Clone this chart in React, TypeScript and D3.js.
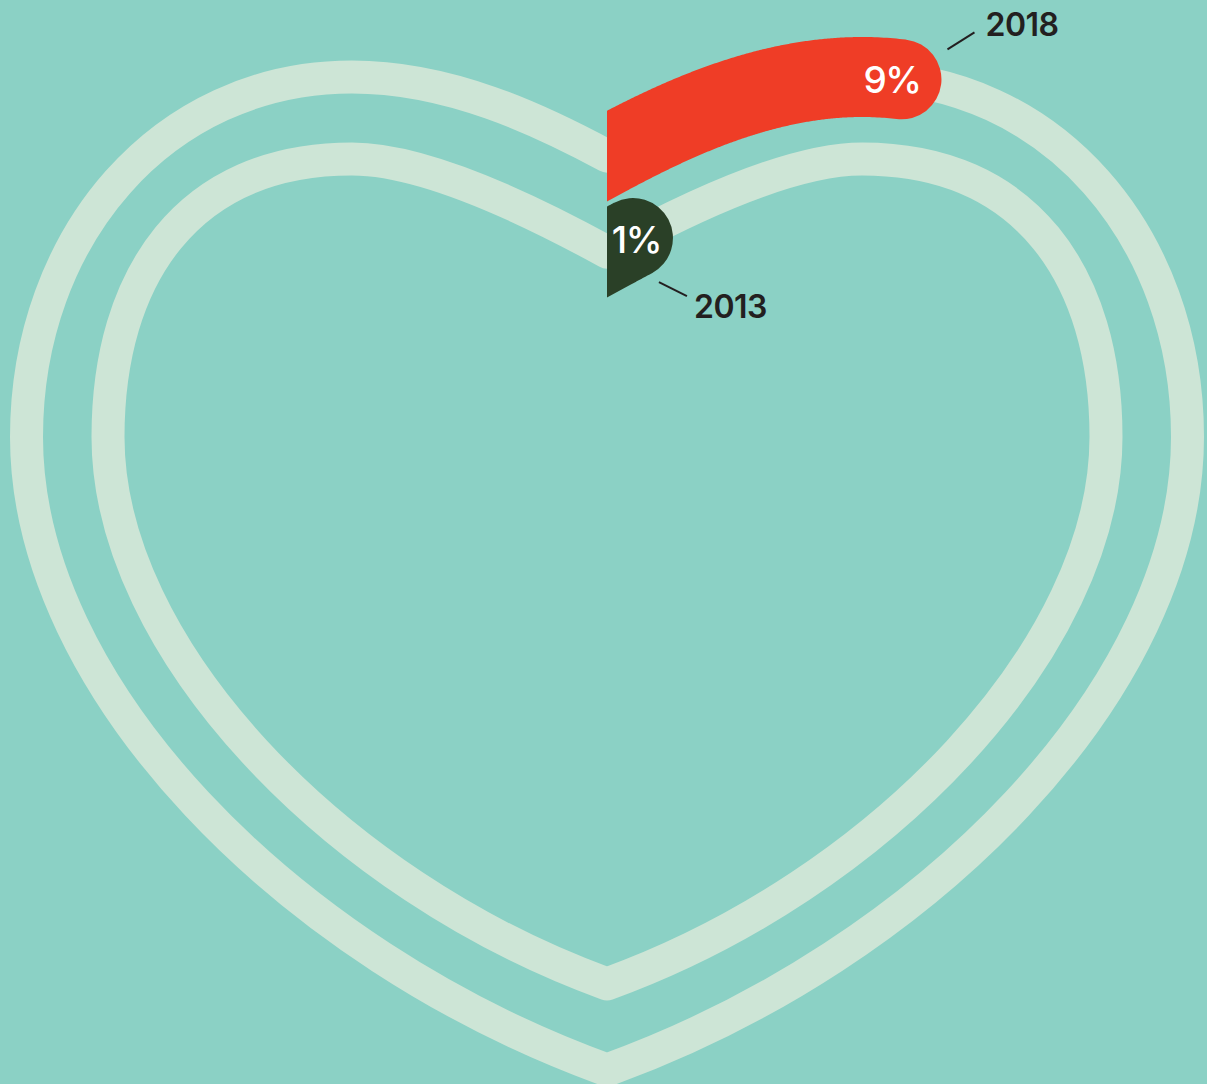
import * as d3 from 'd3';

// one ring per survey year, outer ring first
const years = ['2018', '2013'];
const shares = [9, 1];
const shareColors = ['#ef3d26', '#2a4027'];

const W = 1207;
const H = 1084;
const CX = 607;
const TRACK = 33;
const BAR = 80;

type Pt = [number, number];

// right half of each heart ring as three cubic curves (x is offset from the centre line)
const ringShapes: Pt[][][] = [
    [
        [[0, 156], [67, 120], [157, 77], [255, 77]],
        [[255, 77], [445, 77], [580.5, 237], [580.5, 437]],
        [[580.5, 437], [580.5, 687], [320, 954], [0, 1070]],
    ],
    [
        [[0, 252], [62, 218], [177, 159], [255, 159]],
        [[255, 159], [420, 159], [499, 277], [499, 437]],
        [[499, 437], [499, 647], [273, 885], [0, 984]],
    ],
];

// where the labels sit relative to the end of the bar
const valueLabelPos = [[19, 14], [28, 15]];
const yearLabelPos = [
    { line: [[46, -30], [73, -47]], text: [84, -43] },
    { line: [[26, 44], [54, 58]], text: [61, 80] },
];

function cubicAt(s: Pt[], t: number): Pt {
    const u = 1 - t;
    const a = u * u * u, b = 3 * u * u * t, c = 3 * u * t * t, d = t * t * t;
    return [
        a * s[0][0] + b * s[1][0] + c * s[2][0] + d * s[3][0],
        a * s[0][1] + b * s[1][1] + c * s[2][1] + d * s[3][1],
    ];
}

// clockwise from the top cusp: right half, then the mirrored left half
function heartSegments(shape: Pt[][]): Pt[][] {
    const right = shape.map(seg => seg.map(([dx, y]) => [CX + dx, y] as Pt));
    const left = shape.slice().reverse()
        .map(seg => seg.slice().reverse().map(([dx, y]) => [CX - dx, y] as Pt));
    return [...right, ...left];
}

function trackPath(segs: Pt[][]) {
    const p = d3.path();
    p.moveTo(segs[0][0][0], segs[0][0][1]);
    segs.forEach(s => p.bezierCurveTo(s[1][0], s[1][1], s[2][0], s[2][1], s[3][0], s[3][1]));
    p.closePath();
    return p.toString();
}

function progress(segs: Pt[][], share: number) {
    const pts: Pt[] = [];
    segs.forEach((s, i) => {
        for (let k = i === 0 ? 0 : 1; k <= 200; k++) pts.push(cubicAt(s, k / 200));
    });
    const cum = [0];
    for (let i = 1; i < pts.length; i++) {
        cum.push(cum[i - 1] + Math.hypot(pts[i][0] - pts[i - 1][0], pts[i][1] - pts[i - 1][1]));
    }
    const target = cum[cum.length - 1] * share / 100;

    // run the bar a bit past the cusp so the clip gives a straight vertical cut
    const s0 = segs[0];
    const dx = s0[1][0] - s0[0][0], dy = s0[1][1] - s0[0][1];
    const len = Math.hypot(dx, dy);
    const out: Pt[] = [[s0[0][0] - dx / len * 60, s0[0][1] - dy / len * 60]];

    let i = 0;
    while (i < pts.length - 1 && cum[i + 1] <= target) out.push(pts[i++]);
    const f = (target - cum[i]) / (cum[i + 1] - cum[i]);
    out.push(pts[i]);
    const end: Pt = [
        pts[i][0] + (pts[i + 1][0] - pts[i][0]) * f,
        pts[i][1] + (pts[i + 1][1] - pts[i][1]) * f,
    ];
    out.push(end);
    return { points: out, end };
}

export default function App() {
    const rings = ringShapes.map(heartSegments);
    const line = d3.line<Pt>();
    const font = 'Inter, "Noto Sans", sans-serif';

    return (
        <svg width={W} height={H} viewBox={`0 0 ${W} ${H}`}
            style={{ position: 'absolute', left: 0, top: 0, display: 'block' }}>
            <defs>
                <clipPath id="right-half">
                    <rect x={CX} y={0} width={W - CX} height={H} />
                </clipPath>
            </defs>
            <rect width={W} height={H} fill="#8bd1c5" />

            {rings.map((segs, i) => (
                <path key={'t' + i} d={trackPath(segs)} fill="none" stroke="#cde5d6"
                    strokeWidth={TRACK} strokeLinejoin="round" />
            ))}

            {rings.map((segs, i) => {
                const { points, end } = progress(segs, shares[i]);
                const lp = yearLabelPos[i];
                const vp = valueLabelPos[i];
                return (
                    <g key={'p' + i}>
                        <path d={line(points) || ''} fill="none" stroke={shareColors[i]}
                            strokeWidth={BAR} strokeLinecap="round" strokeLinejoin="round"
                            clipPath="url(#right-half)" />
                        <text x={end[0] + vp[0]} y={end[1] + vp[1]} textAnchor="end" fill="#ffffff"
                            fontFamily={font} fontSize={37} fontWeight={500} letterSpacing={-1.5}>
                            {shares[i]}%
                        </text>
                        <line x1={end[0] + lp.line[0][0]} y1={end[1] + lp.line[0][1]}
                            x2={end[0] + lp.line[1][0]} y2={end[1] + lp.line[1][1]}
                            stroke="#231f20" strokeWidth={2} />
                        <text x={end[0] + lp.text[0]} y={end[1] + lp.text[1]} fill="#231f20"
                            fontFamily={font} fontSize={32} fontWeight={600} letterSpacing={-0.5}>
                            {years[i]}
                        </text>
                    </g>
                );
            })}
        </svg>
    );
}
